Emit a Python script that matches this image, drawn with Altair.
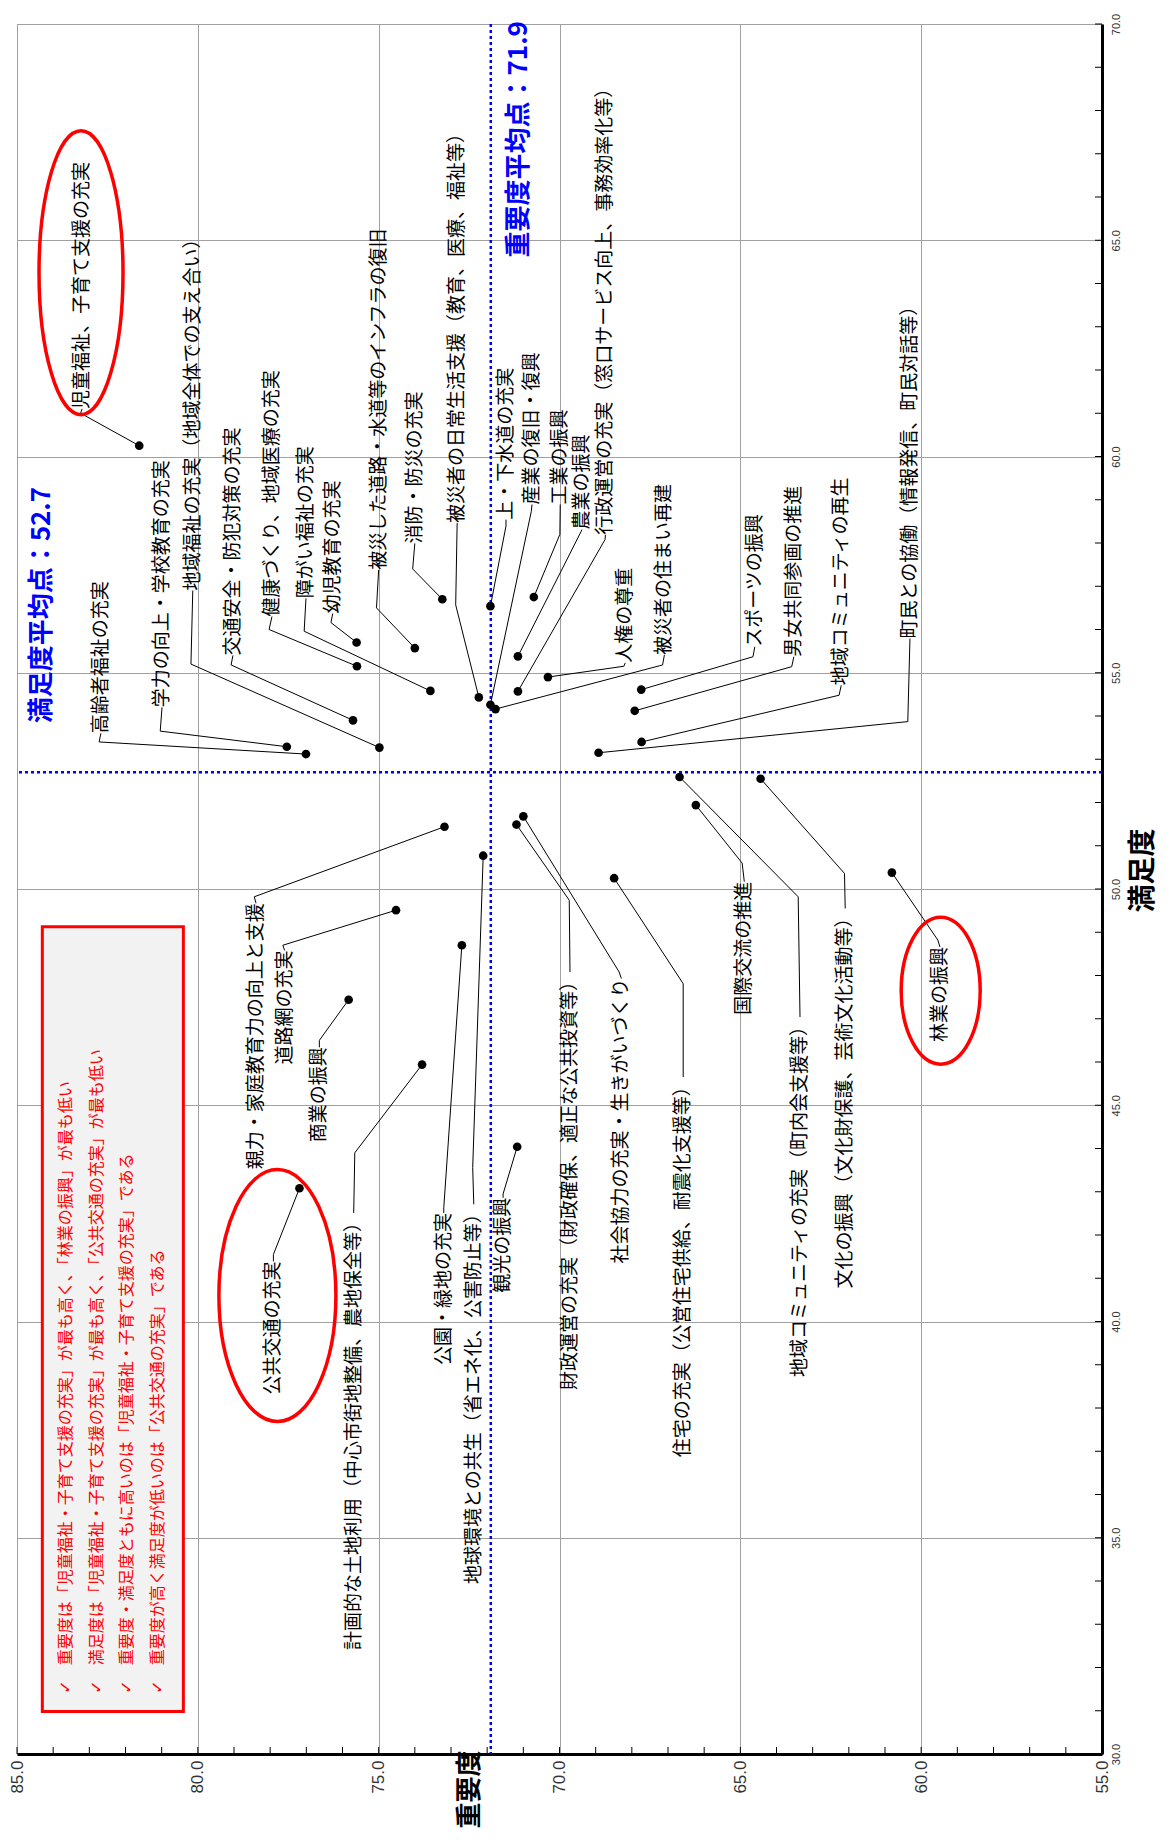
import altair as alt
import pandas as pd

# ---------------- data ----------------
names = [
    "児童福祉、子育て支援の充実", "高齢者福祉の充実", "学力の向上・学校教育の充実",
    "地域福祉の充実（地域全体での支え合い）", "交通安全・防犯対策の充実", "健康づくり、地域医療の充実",
    "障がい福祉の充実", "幼児教育の充実", "被災した道路・水道等のインフラの復旧",
    "消防・防災の充実", "被災者の日常生活支援（教育、医療、福祉等）", "上・下水道の充実",
    "産業の復旧・復興", "工業の振興", "農業の振興",
    "行政運営の充実（窓口サービス向上、事務効率化等）", "人権の尊重", "被災者の住まい再建",
    "スポーツの振興", "男女共同参画の推進", "地域コミュニティの再生",
    "町民との協働（情報発信、町民対話等）",
    "親力・家庭教育力の向上と支援", "道路網の充実", "商業の振興", "公共交通の充実",
    "計画的な土地利用（中心市街地整備、農地保全等）", "公園・緑地の充実",
    "地球環境との共生（省エネ化、公害防止等）", "観光の振興",
    "財政運営の充実（財政確保、適正な公共投資等）", "社会協力の充実・生きがいづくり",
    "住宅の充実（公営住宅供給、耐震化支援等）", "国際交流の推進",
    "地域コミュニティの充実（町内会支援等）", "文化の振興（文化財保護、芸術文化活動等）",
    "林業の振興",
]
importance = [81.62, 77.01, 77.54, 74.98, 75.71, 75.60, 73.57, 75.61, 74.00, 73.24, 72.23, 71.91,
              71.91, 70.71, 71.15, 71.15, 70.32, 71.77, 67.74, 67.92, 67.73, 68.92,
              73.18, 74.52, 75.83, 77.19, 73.80, 72.70, 72.11, 71.17, 71.19, 71.00,
              68.49, 66.23, 66.68, 64.44, 60.81]
satisfaction = [60.25, 53.12, 53.29, 53.27, 53.90, 55.15, 54.58, 55.70, 55.57, 56.70, 54.43, 56.54,
                54.26, 56.75, 55.38, 54.57, 54.90, 54.16, 54.61, 54.12, 53.40, 53.15,
                51.44, 49.51, 47.44, 43.08, 45.94, 48.70, 50.77, 44.04, 51.49, 51.68,
                50.25, 51.94, 52.59, 52.55, 50.38]
# label anchor (start of text for "above", end of text for "below")
label_imp = [83.20, 82.68, 80.99, 80.14, 79.03, 77.95, 77.01, 76.27, 75.00, 74.00, 72.83, 71.48,
             70.76, 69.98, 69.38, 68.73, 68.18, 67.10, 64.60, 63.52, 62.21, 60.31,
             78.39, 77.60, 76.64, 77.91, 75.69, 73.20, 72.37, 71.56, 69.71, 68.29,
             66.58, 64.89, 63.35, 62.10, 59.48]
label_sat = [61.10, 53.60, 54.20, 56.90, 55.40, 56.30, 56.72, 56.37, 57.38, 57.99, 58.46, 58.54,
             58.89, 58.89, 58.31, 58.19, 55.23, 55.41, 55.60, 55.37, 54.71, 55.79,
             49.67, 48.58, 46.34, 41.39, 42.51, 42.51, 42.71, 42.86, 48.08, 47.93,
             45.65, 50.17, 47.04, 49.55, 48.66]
# leader-line elbow
elbow_imp = [83.24, 82.73, 81.04, 80.19, 79.08, 78.03, 77.06, 76.32, 75.06, 74.06, 72.87, 71.48,
             70.78, 69.99, 69.40, 68.74, 68.22, 67.15, 64.65, 63.58, 62.27, 60.37,
             78.44, 77.65, 76.64, 77.91, 75.66, 73.20, 72.40, 71.56, 69.73, 68.35,
             66.58, 64.95, 63.40, 62.12, 59.54]
elbow_sat = [61.00, 53.40, 53.65, 55.20, 55.18, 56.00, 55.96, 56.16, 56.50, 57.40, 56.57, 58.39,
             58.73, 58.20, 58.27, 58.08, 55.15, 55.18, 55.37, 55.14, 54.48, 53.87,
             49.82, 48.70, 46.50, 41.55, 43.90, 42.63, 43.56, 42.95, 49.74, 48.08,
             47.81, 50.60, 49.82, 50.36, 48.82]
side = ["above"] * 22 + ["below"] * 15

imp_mean = 71.9
sat_mean = 52.7
imp_mean_label = "重要度平均点：71.9"
sat_mean_label = "満足度平均点：52.7"

notes = [
    "重要度は「児童福祉・子育て支援の充実」が最も高く、「林業の振興」が最も低い",
    "満足度は「児童福祉・子育て支援の充実」が最も高く、「公共交通の充実」が最も低い",
    "重要度・満足度ともに高いのは「児童福祉・子育て支援の充実」である",
    "重要度が高く満足度が低いのは「公共交通の充実」である",
]
note_imp = [83.64, 82.80, 81.96, 81.11]
note_sat = [32.05, 32.05, 32.05, 32.05]
check_sat = [31.55, 31.55, 31.55, 31.55]
box_imp = [84.30, 80.40]
box_sat = [30.98, 49.13]

ell_imp = [83.23, 77.80, 59.46]
ell_sat = [64.25, 40.60, 47.65]
ell_w = [84, 117, 79]
ell_h = [284, 252, 147]

x_tick_labels = [55, 60, 65, 70, 75, 80, 85]
y_tick_labels = [30, 35, 40, 45, 50, 55, 60, 65, 70]

# ---------------- tables ----------------
df = pd.DataFrame({
    "name": names, "imp": importance, "sat": satisfaction,
    "limp": label_imp, "lsat": label_sat, "eimp": elbow_imp, "esat": elbow_sat, "side": side,
})
above = df[df.side == "above"]
below = df[df.side == "below"]


def ellipse_path(w, h):
    a, b, k = w / 2, h / 2, 0.5523
    return (f"M0,{-b:.2f} C{k*a:.2f},{-b:.2f} {a:.2f},{-k*b:.2f} {a:.2f},0 "
            f"C{a:.2f},{k*b:.2f} {k*a:.2f},{b:.2f} 0,{b:.2f} "
            f"C{-k*a:.2f},{b:.2f} {-a:.2f},{k*b:.2f} {-a:.2f},0 "
            f"C{-a:.2f},{-k*b:.2f} {-k*a:.2f},{-b:.2f} 0,{-b:.2f} Z")


ell = pd.DataFrame({"imp": ell_imp, "sat": ell_sat,
                    "path": [ellipse_path(w, h) for w, h in zip(ell_w, ell_h)]})
notes_df = pd.DataFrame({"text": notes, "imp": note_imp, "sat": note_sat,
                         "csat": check_sat, "check": ["✓"] * 4})
box_df = pd.DataFrame({"x1": [box_imp[0]], "x2": [box_imp[1]], "y1": [box_sat[0]], "y2": [box_sat[1]]})
means_df = pd.DataFrame({"imp": [imp_mean], "sat": [sat_mean]})
mean_lbl_df = pd.DataFrame({"text": [imp_mean_label, sat_mean_label],
                            "imp": [71.13, 84.32], "sat": [64.60, 53.83]})
xticks = pd.DataFrame({"t": list(range(55, 86))})
yticks = pd.DataFrame({"t": list(range(30, 71))})

W, H = 1085, 1730
JP = "Noto Sans CJK JP"
xs = alt.Scale(domain=[55, 85], reverse=True, nice=False, zero=False)
ys = alt.Scale(domain=[30, 70], nice=False, zero=False)

x_axis = alt.Axis(values=x_tick_labels, format=".1f", labelAngle=270,
                  labelAlign="right", labelBaseline="middle", labelFlush=False,
                  labelFontSize=17, labelFont="Liberation Sans", labelColor="#333333",
                  labelPadding=6, grid=True, gridColor="#a0a0a0", gridWidth=1,
                  domainColor="#000000", domainWidth=3, ticks=False, labelOverlap=False,
                  title="重要度", titleFont=JP, titleFontSize=26, titleFontWeight="bold",
                  titleColor="#000000", titleAngle=270, titleX=452, titleY=35,
                  titleAlign="center", titleBaseline="middle")
y_axis = alt.Axis(orient="right", values=y_tick_labels, format=".1f",
                  labelAngle=270, labelAlign="center", labelBaseline="top", labelFlush=False,
                  labelFontSize=11, labelFont="Liberation Sans", labelColor="#333333",
                  labelPadding=8, grid=True, gridColor="#a0a0a0", gridWidth=1,
                  domainColor="#000000", domainWidth=3, ticks=False, labelOverlap=False,
                  title="満足度", titleFont=JP, titleFontSize=28, titleFontWeight="bold",
                  titleColor="#000000", titleAngle=270, titleX=41, titleY=846,
                  titleAlign="center", titleBaseline="middle")


def X(f):
    return alt.X(f, type="quantitative", scale=xs, axis=x_axis)


def Y(f):
    return alt.Y(f, type="quantitative", scale=ys, axis=y_axis)


box = alt.Chart(box_df).mark_rect(fill="#f2f2f2", stroke="#ff0000", strokeWidth=3).encode(
    x=X("x1"), x2="x2", y=Y("y1"), y2="y2")

vmean = alt.Chart(means_df).mark_rule(color="#0000ff", strokeWidth=2.5, strokeDash=[3, 3]).encode(x=X("imp"))
hmean = alt.Chart(means_df).mark_rule(color="#0000ff", strokeWidth=2.5, strokeDash=[3, 3]).encode(y=Y("sat"))

lead1 = alt.Chart(df).mark_rule(color="black", strokeWidth=1).encode(
    x=X("imp"), y=Y("sat"), x2="eimp", y2="esat")
lead2 = alt.Chart(df).mark_rule(color="black", strokeWidth=1).encode(
    x=X("eimp"), y=Y("esat"), x2="limp", y2="lsat")

dots = alt.Chart(df).mark_circle(size=75, color="black", opacity=1).encode(x=X("imp"), y=Y("sat"))

txt_above = alt.Chart(above).mark_text(angle=270, align="left", baseline="middle", fontSize=19,
                                       font=JP, color="black").encode(
    x=X("limp"), y=Y("lsat"), text="name:N")
txt_below = alt.Chart(below).mark_text(angle=270, align="right", baseline="middle", fontSize=19,
                                       font=JP, color="black").encode(
    x=X("limp"), y=Y("lsat"), text="name:N")

mean_txt = alt.Chart(mean_lbl_df).mark_text(angle=270, align="left", baseline="middle", fontSize=26,
                                            font=JP, fontWeight="bold", color="#0000ff").encode(
    x=X("imp"), y=Y("sat"), text="text:N")

note_txt = alt.Chart(notes_df).mark_text(angle=270, align="left", baseline="middle", fontSize=16,
                                         font=JP, color="#ff0000").encode(
    x=X("imp"), y=Y("sat"), text="text:N")
note_chk = alt.Chart(notes_df).mark_text(angle=270, align="center", baseline="middle", fontSize=16,
                                         font="DejaVu Sans", color="#ff0000").encode(
    x=X("imp"), y=Y("csat"), text="check:N")

ellipses = alt.Chart(ell).mark_point(filled=False, stroke="#ff0000", strokeWidth=3.5, opacity=1).encode(
    x=X("imp"), y=Y("sat"), shape=alt.Shape("path:N", scale=None), size=alt.value(4))

xt = alt.Chart(xticks).mark_rule(color="black", strokeWidth=1).encode(
    x=X("t"), y=alt.value(H), y2=alt.value(H - 7))
yt = alt.Chart(yticks).mark_rule(color="black", strokeWidth=1).encode(
    y=Y("t"), x=alt.value(W), x2=alt.value(W - 7))

chart = alt.layer(
    box, vmean, hmean, lead1, lead2, dots, txt_above, txt_below, mean_txt,
    note_txt, note_chk, ellipses, xt, yt
).properties(
    width=W, height=H,
    autosize=alt.AutoSizeParams(type="none"),
    padding={"left": 9, "top": 16, "right": 60, "bottom": 76},
    background="white",
).configure_view(stroke="#a0a0a0", strokeWidth=1)

chart.save("out.html", embed_options={"renderer": "svg", "actions": False})
